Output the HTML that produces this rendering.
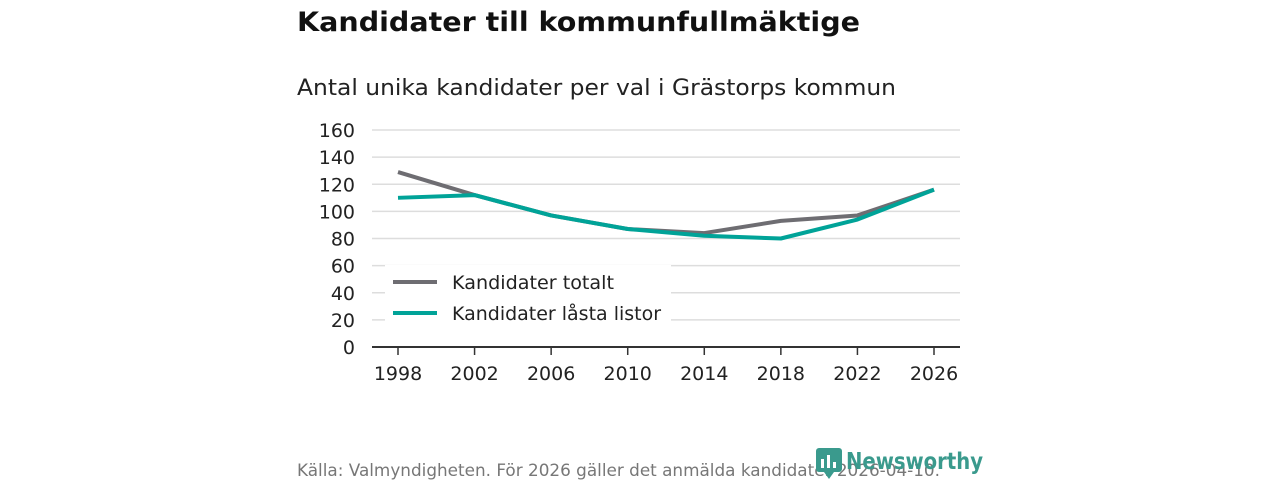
<!DOCTYPE html>
<html><head><meta charset="utf-8"><style>
body{margin:0;width:1280px;height:480px;background:#fff;overflow:hidden;font-family:"DejaVu Sans","Liberation Sans",sans-serif;}
</style></head><body>
<svg width="1280" height="480" style="position:absolute;left:0;top:0" font-family="DejaVu Sans, Liberation Sans, sans-serif">
<text x="297" y="31" font-size="27" font-weight="bold" fill="#111" textLength="563" lengthAdjust="spacingAndGlyphs">Kandidater till kommunfullmäktige</text>
<text x="297" y="95" font-size="22" fill="#222" textLength="599" lengthAdjust="spacingAndGlyphs">Antal unika kandidater per val i Grästorps kommun</text>
<g id="grid"></g>
<g id="yt"></g>
<g id="xt"></g>
<g id="lines"></g>
<g>
<rect x="385" y="265" width="286" height="62" fill="#fff"/>
<line x1="393" y1="282" x2="437" y2="282" stroke="#6e6d72" stroke-width="4"/>
<text x="452" y="289" font-size="19" fill="#222" textLength="162" lengthAdjust="spacingAndGlyphs">Kandidater totalt</text>
<line x1="393" y1="313" x2="437" y2="313" stroke="#00a398" stroke-width="4"/>
<text x="452" y="320" font-size="19" fill="#222" textLength="209" lengthAdjust="spacingAndGlyphs">Kandidater låsta listor</text>
</g>
<text x="297" y="476" font-size="17" fill="#777" textLength="643" lengthAdjust="spacingAndGlyphs">Källa: Valmyndigheten. För 2026 gäller det anmälda kandidater 2026-04-10.</text>
<g>
<rect x="816" y="448" width="26" height="24" rx="3" fill="#3a9a8d"/>
<polygon points="824,472 834,472 829,479" fill="#3a9a8d"/>
<rect x="821" y="459" width="3" height="9" fill="#fff"/><rect x="827" y="455" width="3" height="13" fill="#fff"/><rect x="833" y="462" width="3" height="6" fill="#fff"/>
<text x="846" y="469" font-size="23" font-weight="bold" fill="#3a9a8d" textLength="137" lengthAdjust="spacingAndGlyphs">Newsworthy</text>
</g>
</svg>
<script>
const years=[1998,2002,2006,2010,2014,2018,2022,2026];
const totalt=[129,112,97,87,84,93,97,116];
const lasta=[110,112,97,87,82,80,94,116];
const yTicks=[0,20,40,60,80,100,120,140,160];
const NS="http://www.w3.org/2000/svg";
const x=v=>398+(v-1998)*(934-398)/28;
const y=v=>347-v*(347-130)/160;
function el(t,a,p){const e=document.createElementNS(NS,t);for(const k in a)e.setAttribute(k,a[k]);document.getElementById(p).appendChild(e);return e;}
yTicks.forEach(t=>{
 if(t>0){const g=el('line',{x1:372,x2:960,y1:y(t),y2:y(t),stroke:'#ddd','stroke-width':1.5},'grid');
 
 }
 const tx=el('text',{x:355,y:y(t)+7,'font-size':19,fill:'#222','text-anchor':'end'},'yt');tx.textContent=t;
 
 
});
const ax=el('line',{x1:372,x2:960,y1:347,y2:347,stroke:'#333','stroke-width':2},'xt');


years.forEach(v=>{
 const tk=el('line',{x1:x(v),x2:x(v),y1:347,y2:355,stroke:'#333','stroke-width':1.5},'xt');
 
 
 const tx=el('text',{x:x(v),y:380,'font-size':19,fill:'#222','text-anchor':'middle'},'xt');tx.textContent=v;
 
 
});
[[totalt,'#6e6d72','line-totalt'],[lasta,'#00a398','line-lasta']].forEach(([d,c,n])=>{
 const p=el('polyline',{points:d.map((v,i)=>x(years[i])+','+y(v)).join(' '),fill:'none',stroke:c,'stroke-width':4,'stroke-linejoin':'round'},'lines');
 
 
});
</script>
</body></html>
